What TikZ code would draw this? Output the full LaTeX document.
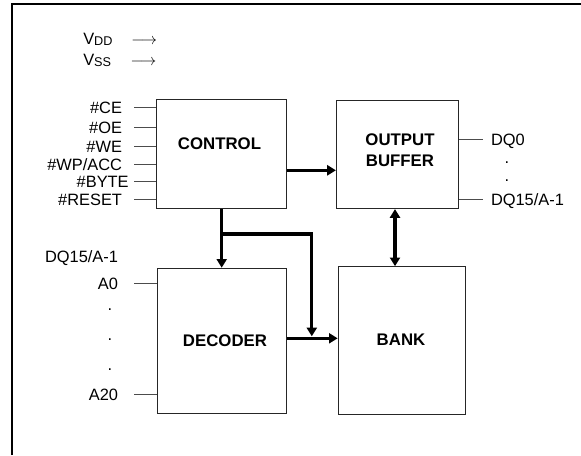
\documentclass[tikz,border=0pt]{standalone}
\usepackage{fontspec}
\setmainfont{Liberation Sans}
\usetikzlibrary{positioning,calc,arrows.meta}

\begin{document}
\begin{tikzpicture}[
    x=0.75pt, y=-0.75pt,
    font=\fontsize{12.3}{14}\selectfont,
    block/.style={draw=black!85, line width=0.9pt, rectangle, inner sep=0pt},
    title/.style={font=\fontsize{12.6}{15.75}\selectfont\bfseries, align=center},
    pinl/.style={anchor=east, inner sep=0pt, outer xsep=#1,
                 text height=9pt, text depth=0pt},
    pinl/.default=9pt,
    pinr/.style={anchor=west, inner sep=0pt, outer xsep=#1,
                 text height=9pt, text depth=0pt},
    pinr/.default=6pt,
    dotl/.style={anchor=base, inner sep=0pt},
    wire/.style={draw=black!70, line width=0.6pt},
    bus/.style={line width=2.4pt, -{Triangle[length=6.5pt,width=7.5pt]}},
    busio/.style={line width=2.4pt,
                  {Triangle[length=6.5pt,width=7.5pt]}-{Triangle[length=6.5pt,width=7.5pt]}},
    frame/.style={line width=1.8pt},
  ]
  \useasboundingbox (0,0) rectangle (581,455);

  % ========================= MARCO =========================
  \draw[frame] (12,455) |- (581,4);

  % ====================== ALIMENTACION =====================
  \node[anchor=base west, inner sep=0pt] (vdd) at (83,44)
    {\makebox[36pt][l]{V\raisebox{-0.75pt}{\fontsize{9.5}{10}\selectfont DD}}$\longrightarrow$};
  \node[anchor=base west, inner sep=0pt] (vss) at (83,65)
    {\makebox[35.5pt][l]{V\raisebox{-0.75pt}{\fontsize{9.5}{10}\selectfont SS}}$\longrightarrow$};

  % ========================= BLOQUES =======================
  \node[block, minimum width=97.5pt, minimum height=81.75pt] (ctrl) at (221.7,153.8) {};
  \node[block, minimum width=91.5pt, minimum height=81pt] (obuf) at (397.5,154.5) {};
  \node[block, minimum width=96.75pt, minimum height=108.75pt] (dec) at (221.7,340.8) {};
  \node[block, minimum width=95.6pt, minimum height=110.6pt] (bank) at (402,340.5) {};

  \node[title] (ctrlt) at (219.5,144) {CONTROL};
  \node[title] (obuft) at (400,150.5) {OUTPUT\\BUFFER};
  \node[title] (dect) at (225,341) {DECODER};
  \node[title] (bankt) at (401,340) {BANK};

  % ==================== ENTRADAS CONTROL ===================
  \node[pinl] (ce) at (134,107) {\#CE};
  \node[pinl] (oe) at (134,127) {\#OE};
  \node[pinl] (we) at (134,146) {\#WE};
  \node[pinl] (wp) at (134,164) {\#WP/ACC};
  \node[pinl=4pt] (byte) at (134,181) {\#BYTE};
  \node[pinl] (rst) at (134,199) {\#RESET};
  \draw[wire] (ce.east) -- (ctrl.west |- ce.east);
  \draw[wire] (oe.east) -- (ctrl.west |- oe.east);
  \draw[wire] (we.east) -- (ctrl.west |- we.east);
  \draw[wire] (wp.east) -- (ctrl.west |- wp.east);
  \draw[wire] (byte.east) -- (ctrl.west |- byte.east);
  \draw[wire] (rst.east) -- (ctrl.west |- rst.east);

  % ====================== DIRECCIONES ======================
  \node[pinl=0pt] (dqa) at (118,256) {DQ15/A-1};
  \node[pinl=12pt] (a0) at (134,283) {A0};
  \node[dotl] (ad1) at (110,310) {.};
  \node[dotl] (ad2) at (110,340) {.};
  \node[dotl] (ad3) at (110,370) {.};
  \node[pinl=12pt] (a20) at (134,394) {A20};
  \draw[wire] (a0.east) -- (dec.west |- a0.east);
  \draw[wire] (a20.east) -- (dec.west |- a20.east);

  % ======================== DATOS ==========================
  \node[pinr] (dq0) at (483,139) {DQ0};
  \node[dotl] (dd1) at (507,163) {.};
  \node[dotl] (dd2) at (507,181) {.};
  \node[pinr] (dq15) at (483,199) {DQ15/A-1};
  \draw[wire] (obuf.east |- dq0.west) -- (dq0.west);
  \draw[wire] (obuf.east |- dq15.west) -- (dq15.west);

  % ======================== FLECHAS ========================
  \draw[bus] ($(ctrl.east)+(0,16.5)$) coordinate (c2o) -- (obuf.west |- c2o);
  \draw[bus] (ctrl.south) -- (dec.north -| ctrl.south);
  \draw[bus] ($(dec.east)+(0,-2.5)$) coordinate (d2b) -- (bank.west |- d2b);
  \coordinate (tap) at ($(ctrl.south)+(0,25)$);
  \draw[bus] (tap) -| ($(d2b)+(25,-2)$);
  \draw[busio] ($(obuf.south)+(-2.5,0)$) coordinate (o2b) -- (bank.north -| o2b);
\end{tikzpicture}
\end{document}
